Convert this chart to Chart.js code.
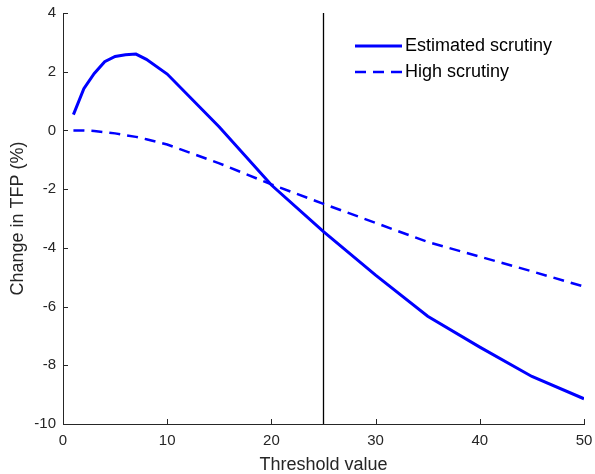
<!DOCTYPE html>
<html>
<head>
<meta charset="utf-8">
<script src="https://cdn.jsdelivr.net/npm/chart.js@4"></script>
<style>
    html, body { margin: 0; padding: 0; background: #fff; }
    #wrap { width: 595px; height: 474px; }
</style>
</head>
<body>
<div id="wrap"><canvas id="chartCanvas" width="595" height="474"></canvas></div>
<script>
// threshold values and TFP changes (%)
const thresholds = [1, 2, 3, 4, 5, 6, 7, 8, 10, 15, 20, 25, 30, 35, 40, 45, 50];
const estimatedScrutiny = [0.54, 1.42, 1.94, 2.34, 2.52, 2.58, 2.6, 2.42, 1.92, 0.12, -1.86, -3.45, -4.93, -6.33, -7.38, -8.38, -9.14];
const highScrutiny = [0, 0, -0.02, -0.06, -0.1, -0.16, -0.22, -0.3, -0.48, -1.12, -1.84, -2.5, -3.15, -3.8, -4.3, -4.8, -5.32];
const cutoff = 25;
const xTicks = [0, 10, 20, 30, 40, 50];
const yTicks = [-10, -8, -6, -4, -2, 0, 2, 4];

const axisColor = '#262626';
const lineBlue = '#0000ff';
const fontFamily = '"Liberation Sans", Arial, sans-serif';

function toPoints(xs, ys) {
    return xs.map((x, i) => ({ x: x, y: ys[i] }));
}

// ticks pointing into the plot area
const inwardTicks = {
    id: 'inwardTicks',
    afterDatasetsDraw(chart) {
        const ctx = chart.ctx;
        const xs = chart.scales.x;
        const ys = chart.scales.y;
        const len = 5;
        ctx.save();
        ctx.strokeStyle = axisColor;
        ctx.lineWidth = 1;
        ctx.beginPath();
        xTicks.forEach(v => {
            const px = Math.round(xs.getPixelForValue(v)) + 0.5;
            ctx.moveTo(px, ys.bottom);
            ctx.lineTo(px, ys.bottom - len);
        });
        yTicks.forEach(v => {
            const py = Math.round(ys.getPixelForValue(v)) + 0.5;
            ctx.moveTo(xs.left, py);
            ctx.lineTo(xs.left + len, py);
        });
        ctx.stroke();
        ctx.restore();
    }
};

// legend drawn inside the plot, top right, no box
const innerLegend = {
    id: 'innerLegend',
    afterDraw(chart) {
        const ctx = chart.ctx;
        const items = chart.data.datasets.filter(d => d.label);
        const x0 = 355, x1 = 402;
        let y = 46;
        ctx.save();
        ctx.font = '18px ' + fontFamily;
        ctx.textBaseline = 'middle';
        ctx.fillStyle = '#000';
        items.forEach(d => {
            ctx.strokeStyle = d.borderColor;
            ctx.lineWidth = d.borderWidth;
            ctx.setLineDash(d.borderDash || []);
            ctx.beginPath();
            ctx.moveTo(x0, y);
            ctx.lineTo(x1, y);
            ctx.stroke();
            ctx.setLineDash([]);
            ctx.fillText(d.label, x1 + 3, y);
            y += 26;
        });
        ctx.restore();
    }
};

const ctx = document.getElementById('chartCanvas').getContext('2d');

new Chart(ctx, {
    type: 'line',
    data: {
        datasets: [
            {
                label: 'Estimated scrutiny',
                data: toPoints(thresholds, estimatedScrutiny),
                borderColor: lineBlue,
                borderWidth: 3,
                pointRadius: 0,
                tension: 0
            },
            {
                label: 'High scrutiny',
                data: toPoints(thresholds, highScrutiny),
                borderColor: lineBlue,
                borderWidth: 2.5,
                borderDash: [11, 7],
                pointRadius: 0,
                tension: 0
            },
            {
                // vertical reference line
                label: '',
                data: [{ x: cutoff, y: -10 }, { x: cutoff, y: 4 }],
                borderColor: '#000',
                borderWidth: 1.3,
                pointRadius: 0
            }
        ]
    },
    options: {
        responsive: false,
        animation: false,
        layout: { padding: { left: 0, right: 11, top: 13, bottom: 0 } },
        plugins: {
            legend: { display: false },
            tooltip: { enabled: false }
        },
        scales: {
            x: {
                type: 'linear',
                min: 0,
                max: 50,
                afterBuildTicks: s => { s.ticks = xTicks.map(v => ({ value: v })); },
                afterFit: s => { s.height = 50; s.paddingLeft = 0; s.paddingRight = 0; },
                grid: { display: false, drawTicks: false },
                border: { display: true, color: axisColor, width: 1 },
                ticks: {
                    color: axisColor,
                    padding: 8,
                    maxRotation: 0,
                    font: { family: fontFamily, size: 15 }
                },
                title: {
                    display: true,
                    text: 'Threshold value',
                    color: axisColor,
                    padding: { top: 0, bottom: 0 },
                    font: { family: fontFamily, size: 18, lineHeight: 1 }
                }
            },
            y: {
                type: 'linear',
                min: -10,
                max: 4,
                afterBuildTicks: s => { s.ticks = yTicks.map(v => ({ value: v })); },
                afterFit: s => { s.width = 63; s.paddingTop = 0; s.paddingBottom = 0; },
                grid: { display: false, drawTicks: false },
                border: { display: true, color: axisColor, width: 1 },
                ticks: {
                    color: axisColor,
                    padding: 7,
                    font: { family: fontFamily, size: 15 }
                },
                title: {
                    display: true,
                    text: 'Change in TFP (%)',
                    color: axisColor,
                    padding: { top: 9, bottom: 0 },
                    font: { family: fontFamily, size: 18, lineHeight: 1 }
                }
            }
        }
    },
    plugins: [inwardTicks, innerLegend]
});
</script>
</body>
</html>
